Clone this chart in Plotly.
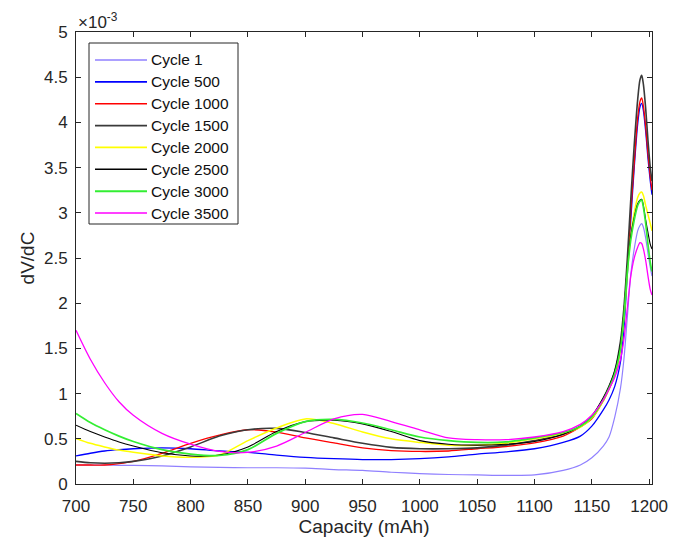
import plotly.graph_objects as go

# Capacity grid (mAh) shared by all cycles
capacity = [700, 712.5, 725, 737.5, 750, 775, 800, 825, 850, 875, 900, 925, 950,
            975, 1000, 1025, 1050, 1075, 1100, 1125, 1140, 1150, 1160, 1165,
            1170, 1175, 1178, 1181, 1184, 1187, 1190, 1192, 1193.5, 1195, 1197,
            1199, 1201, 1202.5]

# dV/dC values, in units of 1e-3
cycle_1 = [0.21, 0.21, 0.21, 0.207, 0.205, 0.20, 0.19, 0.185, 0.18, 0.18, 0.175,
           0.16, 0.15, 0.13, 0.115, 0.105, 0.10, 0.095, 0.10, 0.15, 0.21, 0.29,
           0.42, 0.52, 0.74, 1.06, 1.38, 1.85, 2.32, 2.6, 2.8, 2.86, 2.88, 2.84,
           2.72, 2.55, 2.4, 2.3]
cycle_500 = [0.31, 0.34, 0.365, 0.38, 0.39, 0.40, 0.39, 0.365, 0.35, 0.32, 0.295,
             0.28, 0.27, 0.27, 0.28, 0.30, 0.33, 0.355, 0.39, 0.46, 0.53, 0.64,
             0.82, 0.93, 1.08, 1.35, 1.72, 2.32, 2.92, 3.5, 3.98, 4.17, 4.21,
             4.13, 3.9, 3.6, 3.35, 3.2]
cycle_1000 = [0.21, 0.21, 0.21, 0.225, 0.25, 0.34, 0.45, 0.54, 0.60, 0.575, 0.51,
              0.455, 0.40, 0.37, 0.36, 0.365, 0.39, 0.415, 0.455, 0.53, 0.63,
              0.72, 0.92, 1.05, 1.2, 1.5, 1.85, 2.4, 3.0, 3.55, 4.05, 4.23, 4.27,
              4.18, 3.95, 3.65, 3.4, 3.25]
cycle_1500 = [0.25, 0.235, 0.23, 0.235, 0.25, 0.31, 0.41, 0.53, 0.60, 0.615, 0.57,
              0.51, 0.45, 0.405, 0.39, 0.39, 0.40, 0.43, 0.48, 0.55, 0.64, 0.75,
              0.95, 1.08, 1.25, 1.58, 1.95, 2.5, 3.15, 3.75, 4.25, 4.47, 4.52,
              4.42, 4.15, 3.8, 3.5, 3.35]
cycle_2000 = [0.505, 0.45, 0.41, 0.375, 0.35, 0.31, 0.295, 0.32, 0.48, 0.62, 0.72,
              0.67, 0.575, 0.50, 0.46, 0.43, 0.43, 0.45, 0.50, 0.56, 0.63, 0.73,
              0.92, 1.05, 1.2, 1.5, 1.85, 2.35, 2.75, 3.0, 3.17, 3.22, 3.23, 3.19,
              3.08, 2.98, 2.88, 2.8]
cycle_2500 = [0.65, 0.58, 0.52, 0.465, 0.42, 0.345, 0.31, 0.32, 0.41, 0.58, 0.69,
              0.705, 0.665, 0.58, 0.48, 0.44, 0.43, 0.44, 0.47, 0.55, 0.64, 0.75,
              0.95, 1.08, 1.25, 1.55, 1.9, 2.4, 2.75, 2.95, 3.1, 3.14, 3.15, 3.08,
              2.92, 2.78, 2.65, 2.6]
cycle_3000 = [0.78, 0.68, 0.60, 0.53, 0.47, 0.38, 0.33, 0.315, 0.38, 0.56, 0.69,
              0.715, 0.675, 0.60, 0.52, 0.48, 0.46, 0.465, 0.51, 0.57, 0.64, 0.74,
              0.93, 1.06, 1.22, 1.5, 1.85, 2.35, 2.7, 2.92, 3.08, 3.13, 3.14, 3.06,
              2.88, 2.65, 2.45, 2.35]
cycle_3500 = [1.70, 1.38, 1.12, 0.91, 0.76, 0.56, 0.44, 0.36, 0.35, 0.42, 0.57,
              0.72, 0.77, 0.69, 0.60, 0.51, 0.49, 0.49, 0.52, 0.58, 0.66, 0.76,
              0.93, 1.05, 1.18, 1.38, 1.6, 1.95, 2.3, 2.5, 2.62, 2.67, 2.66, 2.6,
              2.47, 2.3, 2.15, 2.09]

series_names = ["Cycle 1", "Cycle 500", "Cycle 1000", "Cycle 1500",
                "Cycle 2000", "Cycle 2500", "Cycle 3000", "Cycle 3500"]
series_values = [cycle_1, cycle_500, cycle_1000, cycle_1500,
                 cycle_2000, cycle_2500, cycle_3000, cycle_3500]
series_colors = ["#9080ff", "#0000ff", "#ff0000", "#3a3a3a",
                 "#ffff00", "#000000", "#33ee33", "#ff00ff"]
series_widths = [1.2, 1.3, 1.3, 1.6, 1.5, 1.1, 1.7, 1.3]

x_ticks = [700, 750, 800, 850, 900, 950, 1000, 1050, 1100, 1150, 1200]
y_ticks = [0, 0.5, 1, 1.5, 2, 2.5, 3, 3.5, 4, 4.5, 5]

W, H = 683, 542
ML, MR, MT, MB = 76, 31, 32, 58
PW, PH = W - ML - MR, H - MT - MB
AX = "#262626"
FONT = "Liberation Sans, Arial, sans-serif"


def px_x(px):
    return (px - ML) / PW


def px_y(py):
    return (H - MB - py) / PH


fig = go.Figure()
for name, vals, col, lw in zip(series_names, series_values, series_colors, series_widths):
    fig.add_trace(go.Scatter(
        x=capacity, y=vals, mode="lines", name=name,
        line=dict(color=col, width=lw, shape="spline", smoothing=0.8),
        showlegend=False,
    ))

# Boxed legend in the upper-left corner
shapes = [dict(type="rect", xref="paper", yref="paper",
               x0=px_x(89), x1=px_x(238), y0=px_y(224), y1=px_y(43),
               line=dict(color=AX, width=1), fillcolor="white", layer="above")]
annotations = []
for i, (name, col, lw) in enumerate(zip(series_names, series_colors, series_widths)):
    ry = 60 + i * 21.86
    shapes.append(dict(type="line", xref="paper", yref="paper",
                       x0=px_x(95), x1=px_x(147), y0=px_y(ry), y1=px_y(ry),
                       line=dict(color=col, width=lw + 0.3), layer="above"))
    annotations.append(dict(xref="paper", yref="paper", x=px_x(149), y=px_y(ry),
                            xanchor="left", yanchor="middle", text=name,
                            showarrow=False,
                            font=dict(family=FONT, size=15.5, color="#111111")))

# Axis exponent label
annotations.append(dict(xref="paper", yref="paper", x=0, y=1, xanchor="left",
                        yanchor="bottom", yshift=-2, text="×10<sup>-3</sup>",
                        showarrow=False, font=dict(family=FONT, size=17, color=AX)))

axis_common = dict(showline=True, linecolor=AX, linewidth=1, mirror="ticks",
                   ticks="inside", ticklen=5, tickcolor=AX, tickwidth=1,
                   showgrid=False, zeroline=False,
                   tickfont=dict(family=FONT, size=17, color=AX))

fig.update_layout(
    width=W, height=H,
    margin=dict(l=ML, r=MR, t=MT, b=MB, autoexpand=False),
    paper_bgcolor="white", plot_bgcolor="white",
    xaxis=dict(range=[700, 1202.5], tickvals=x_ticks, ticklabelstandoff=7,
               title=dict(text="Capacity (mAh)", standoff=4,
                          font=dict(family=FONT, size=19, color=AX)),
               **axis_common),
    yaxis=dict(range=[0, 5], tickvals=y_ticks, ticklabelstandoff=4,
               title=dict(text="dV/dC", standoff=4,
                          font=dict(family=FONT, size=19, color=AX)),
               **axis_common),
    shapes=shapes, annotations=annotations,
)

fig.write_html("out.html")
